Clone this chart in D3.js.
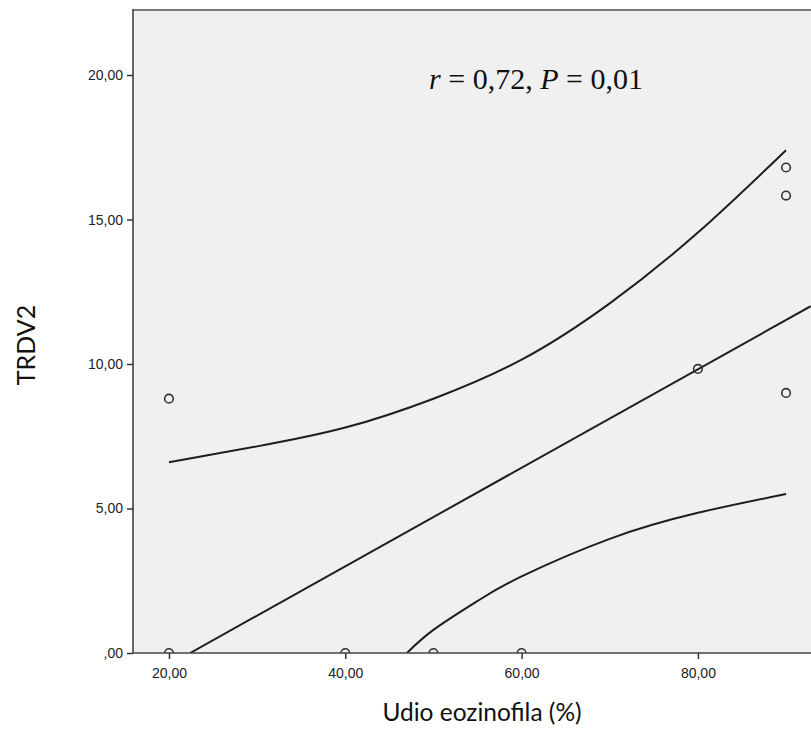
<!DOCTYPE html>
<html><head><meta charset="utf-8">
<script src="https://cdn.jsdelivr.net/npm/d3@7"></script>
<style>html,body{margin:0;padding:0;background:#fff;}</style>
</head><body>
<svg id="c" width="811" height="742"></svg>
<script>
// Data
const xVals = [20, 20, 40, 50, 60, 80, 90, 90, 90];
const yVals = [0, 8.8, 0, 0, 0, 9.83, 16.8, 15.83, 9.0];
const fitX = [22.4, 92.8];
const fitY = [0, 12.0];
const upperX = [20, 30, 40, 50, 60, 70, 80, 90];
const upperY = [6.6, 7.15, 7.8, 8.8, 10.15, 12.1, 14.55, 17.4];
const lowerX = [47, 50, 55, 60, 70, 80, 90];
const lowerY = [0, 0.8, 1.8, 2.65, 3.95, 4.85, 5.5];
const xTicks = [20, 40, 60, 80];
const yTicks = [0, 5, 10, 15, 20];
const xTitle = "Udio eozinofila (%)";
const yTitle = "TRDV2";

const svg = d3.select("#c");
const L = 133, T = 10, R = 811, B = 653;
const x = d3.scaleLinear().domain([15.92, 92.83]).range([L, R]);
const y = d3.scaleLinear().domain([0, 22.25]).range([B, T]);
const fmt = v => (v === 0 ? ",00" : d3.format(".2f")(v).replace(".", ","));

svg.append("rect").attr("x", L).attr("y", T).attr("width", R - L).attr("height", B - T).attr("fill", "#f0f0f0");
svg.append("clipPath").attr("id", "clip").append("rect").attr("x", L).attr("y", T).attr("width", R - L).attr("height", B - T);
const g = svg.append("g").attr("clip-path", "url(#clip)");

const line = d3.line().x(d => x(d[0])).y(d => y(d[1]));
const curve = d3.line().x(d => x(d[0])).y(d => y(d[1])).curve(d3.curveNatural);
g.append("path").datum(fitX.map((v, i) => [v, fitY[i]])).attr("d", line)
  .attr("fill", "none").attr("stroke", "#1e1e1e").attr("stroke-width", 2);
g.append("path").datum(upperX.map((v, i) => [v, upperY[i]])).attr("d", curve)
  .attr("fill", "none").attr("stroke", "#1e1e1e").attr("stroke-width", 2);
g.append("path").datum(lowerX.map((v, i) => [v, lowerY[i]])).attr("d", curve)
  .attr("fill", "none").attr("stroke", "#1e1e1e").attr("stroke-width", 2);

g.selectAll("circle.pt").data(xVals.map((v, i) => [v, yVals[i]])).enter().append("circle")
  .attr("class", "pt").attr("cx", d => x(d[0])).attr("cy", d => y(d[1])).attr("r", 4.3)
  .attr("fill", "none").attr("stroke", "#333").attr("stroke-width", 1.6);

// frame
svg.append("line").attr("x1", L).attr("x2", R).attr("y1", T).attr("y2", T).attr("stroke", "#777").attr("stroke-width", 2);
svg.append("line").attr("x1", L).attr("x2", L).attr("y1", T - 1).attr("y2", B).attr("stroke", "#333").attr("stroke-width", 1.5);
svg.append("line").attr("x1", L).attr("x2", R).attr("y1", B).attr("y2", B).attr("stroke", "#444").attr("stroke-width", 1.5);

// axes
const ya = d3.axisLeft(y).tickValues(yTicks).tickFormat(fmt).tickSize(6).tickPadding(4);
const yg = svg.append("g").attr("transform", `translate(${L},0)`).call(ya);
yg.select(".domain").remove();
yg.selectAll(".tick line").attr("stroke", "#333").attr("stroke-width", 1.5);
yg.selectAll("text").attr("font-family", "Liberation Sans, Arial, sans-serif").attr("font-size", 14).attr("fill", "#222");

const xa = d3.axisBottom(x).tickValues(xTicks).tickFormat(fmt).tickSize(6).tickPadding(9);
const xg = svg.append("g").attr("transform", `translate(0,${B})`).call(xa);
xg.select(".domain").remove();
xg.selectAll(".tick line").attr("stroke", "#333").attr("stroke-width", 1.5);
xg.selectAll("text").attr("font-family", "Liberation Sans, Arial, sans-serif").attr("font-size", 14).attr("fill", "#222");

// titles
svg.append("text").attr("x", 482).attr("y", 721).attr("text-anchor", "middle")
  .attr("font-family", "Lato, Carlito, sans-serif").attr("font-size", 24.5).attr("fill", "#111").text(xTitle);
svg.append("text").attr("transform", "translate(35,345) rotate(-90)").attr("text-anchor", "middle")
  .attr("font-family", "Lato, Carlito, sans-serif").attr("font-size", 25).attr("fill", "#111").text(yTitle);

// annotation
const ann = svg.append("text").attr("x", 536).attr("y", 89).attr("text-anchor", "middle")
  .attr("font-family", "Liberation Serif, Times New Roman, serif").attr("font-size", 30).attr("fill", "#111");
ann.append("tspan").attr("font-style", "italic").text("r");
ann.append("tspan").text(" = 0,72, ");
ann.append("tspan").attr("font-style", "italic").text("P");
ann.append("tspan").text(" = 0,01");
</script>
</body></html>
